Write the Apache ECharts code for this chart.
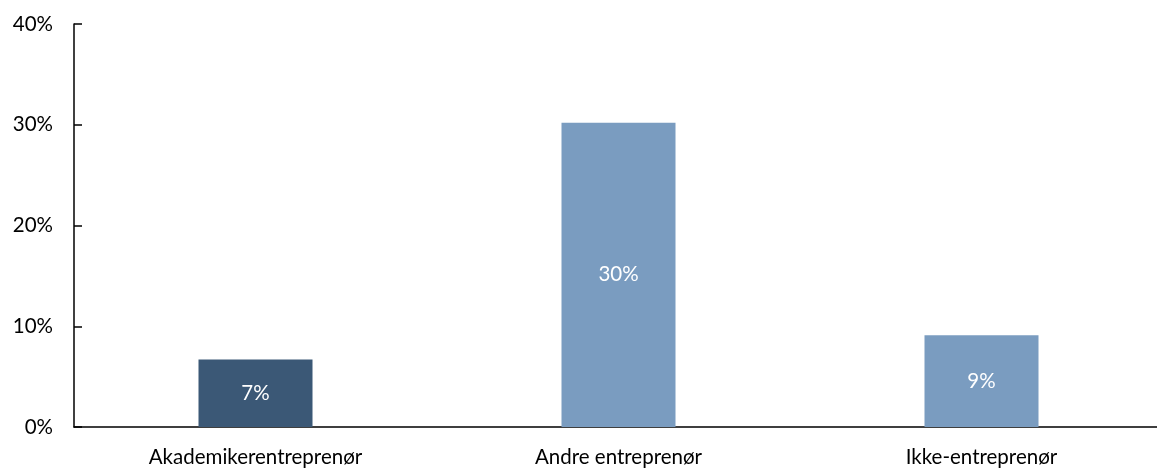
<!DOCTYPE html>
<html>
<head>
<meta charset="utf-8">
<script src="https://cdn.jsdelivr.net/npm/echarts@6/dist/echarts.min.js"></script>
<style>
html,body{margin:0;padding:0;background:#fff;}
#chart{width:1157px;height:471px;}
</style>
</head>
<body>
<div id="chart"></div>
<script>
const categories = ['Akademikerentreprenør', 'Andre entreprenør', 'Ikke-entreprenør'];
const values = [6.7, 30.2, 9.1];
const barColors = ['#3B5876', '#7A9CC0', '#7A9CC0'];
const yTicks = [0, 10, 20, 30, 40];

const chart = echarts.init(document.getElementById('chart'));
const font = 'Lato, "Noto Sans", sans-serif';
chart.setOption({
  animation: false,
  grid: { left: 74, width: 1089, top: 24, bottom: 44, containLabel: false, outerBoundsMode: 'none' },
  xAxis: {
    type: 'category',
    data: categories,
    axisLine: { lineStyle: { color: '#000', width: 1.5 } },
    axisTick: { show: false },
    axisLabel: { color: '#000', fontSize: 20.5, fontFamily: font, margin: 20 }
  },
  yAxis: {
    type: 'value',
    min: yTicks[0],
    max: yTicks[yTicks.length - 1],
    interval: 10,
    axisLine: { show: true, lineStyle: { color: '#000', width: 1.5 } },
    axisTick: { show: true, inside: true, length: 8, lineStyle: { color: '#000', width: 1.5 } },
    splitLine: { show: false },
    axisLabel: { color: '#000', fontSize: 20.5, fontFamily: font, margin: 21, formatter: v => v + '%' }
  },
  series: [{
    type: 'bar',
    barWidth: 114,
    data: values.map((v, i) => ({ value: v, itemStyle: { color: barColors[i] } })),
    label: {
      show: true,
      position: 'inside',
      color: '#fff',
      fontSize: 20.5,
      fontFamily: font,
      formatter: p => Math.round(p.value) + '%'
    }
  }]
});
</script>
</body>
</html>
